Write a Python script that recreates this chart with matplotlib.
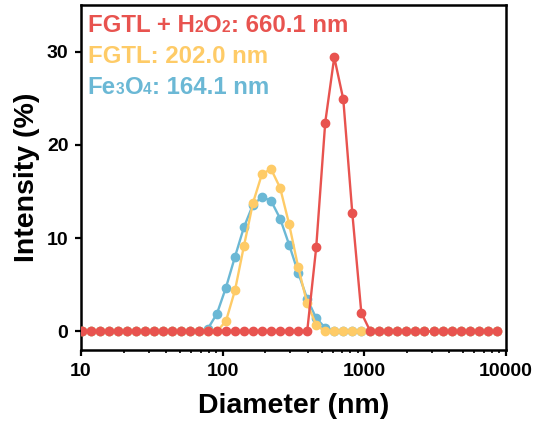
import matplotlib
matplotlib.use("Agg")
import matplotlib.pyplot as plt
from matplotlib.offsetbox import TextArea, HPacker, VPacker, AnchoredOffsetbox

# DLS size bins (nm)
size_nm = [10.1, 11.7, 13.54, 15.69, 18.17, 21.04, 24.36, 28.21, 32.67, 37.84,
           43.82, 50.75, 58.77, 68.06, 78.82, 91.28, 105.7, 122.4, 141.8, 164.2,
           190.1, 220.2, 255.0, 295.3, 342.0, 396.1, 458.7, 531.2, 615.1, 712.4,
           825.0, 955.4, 1106, 1281, 1484, 1718, 1990, 2305, 2669, 3091,
           3580, 4145, 4801, 5560, 6439, 7456, 8635]

# intensity (%)
fe3o4 = [0, 0, 0, 0, 0, 0, 0, 0, 0, 0,
         0, 0, 0, 0, 0.3, 1.9, 4.7, 8.0, 11.2, 13.6,
         14.4, 14.0, 12.1, 9.3, 6.3, 3.5, 1.4, 0.4, 0, 0,
         0, 0, 0, 0, 0, 0, 0, 0, 0, 0,
         0, 0, 0, 0, 0, 0, 0]
fgtl = [0, 0, 0, 0, 0, 0, 0, 0, 0, 0,
        0, 0, 0, 0, 0, 0, 1.1, 4.4, 9.2, 13.8,
        16.9, 17.4, 15.4, 11.5, 6.9, 3.0, 0.7, 0, 0, 0,
        0, 0, 0, 0, 0, 0, 0, 0, 0, 0,
        0, 0, 0, 0, 0, 0, 0]
fgtl_h2o2 = [0, 0, 0, 0, 0, 0, 0, 0, 0, 0,
             0, 0, 0, 0, 0, 0, 0, 0, 0, 0,
             0, 0, 0, 0, 0, 0, 9.0, 22.4, 29.4, 24.9,
             12.7, 2.0, 0, 0, 0, 0, 0, 0, 0, 0,
             0, 0, 0, 0, 0, 0, 0]

c_red = "#E8534F"
c_yel = "#FECB67"
c_blu = "#6BB8D5"

plt.rcParams["font.family"] = "Liberation Sans"
plt.rcParams["font.weight"] = "bold"

fig = plt.figure(figsize=(5.37, 4.29), dpi=100)
ax = fig.add_axes([0.1508, 0.1841, 0.7909, 0.8042])

ax.plot(size_nm, fe3o4, "-o", color=c_blu, lw=1.7, ms=6, zorder=2)
ax.plot(size_nm, fgtl, "-o", color=c_yel, lw=1.7, ms=6, zorder=3)
ax.plot(size_nm, fgtl_h2o2, "-o", color=c_red, lw=1.7, ms=6, zorder=4)

ax.set_xscale("log")
ax.set_xlim(10, 10000)
ax.set_ylim(-2, 35)
ax.set_xticks([10, 100, 1000, 10000])
ax.set_xticklabels(["10", "100", "1000", "10000"])
ax.set_yticks([0, 10, 20, 30])
ax.tick_params(axis="both", which="major", direction="out", length=4, width=1.6,
               labelsize=14, pad=5)
ax.tick_params(axis="x", which="minor", direction="out", length=2.5, width=1.2)
for lab in ax.get_xticklabels() + ax.get_yticklabels():
    lab.set_fontweight("bold")
for sp in ax.spines.values():
    sp.set_linewidth(1.8)

ax.set_xlabel("Diameter (nm)", fontsize=20.5, fontweight="bold", labelpad=10)
ax.set_ylabel("Intensity (%)", fontsize=20.5, fontweight="bold", labelpad=5)


def label_line(parts, color):
    kids = [TextArea(t, textprops=dict(color=color, size=s, weight="bold",
                                       family="Liberation Sans"))
            for t, s in parts]
    return HPacker(children=kids, align="baseline", pad=0, sep=0)


rows = [
    label_line([("FGTL + H", 17.3), ("2", 11.2), ("O", 17.3), ("2", 11.2),
                (": 660.1 nm", 17.3)], c_red),
    label_line([("FGTL: 202.0 nm", 17.3)], c_yel),
    label_line([("Fe", 17.3), ("3", 11.2), ("O", 17.3), ("4", 11.2),
                (": 164.1 nm", 17.3)], c_blu),
]
box = AnchoredOffsetbox(loc="upper left",
                        child=VPacker(children=rows, align="left", pad=0, sep=6),
                        pad=0, borderpad=0, frameon=False,
                        bbox_to_anchor=(0.016, 0.975), bbox_transform=ax.transAxes)
ax.add_artist(box)

fig.savefig("out.png", dpi=100)
